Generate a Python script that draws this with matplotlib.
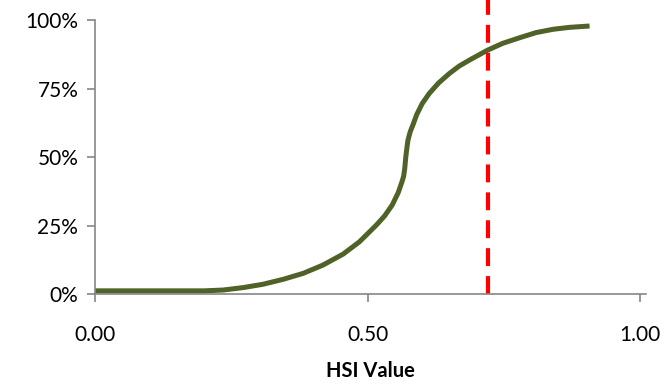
import matplotlib
matplotlib.use("Agg")
import matplotlib.pyplot as plt
from matplotlib.ticker import PercentFormatter

# curve
hsi = [0.00, 0.10, 0.20, 0.235, 0.272, 0.308, 0.345, 0.382, 0.418, 0.455,
       0.485, 0.516, 0.531, 0.545, 0.556, 0.563, 0.566, 0.568, 0.570,
       0.572, 0.574, 0.578, 0.583, 0.590, 0.600, 0.613, 0.630, 0.650,
       0.668, 0.687, 0.720, 0.748, 0.780, 0.809, 0.840, 0.870, 0.907]
prob = [1.2, 1.2, 1.2, 1.5, 2.4, 3.6, 5.4, 7.6, 10.6, 14.6,
        19.1, 25.2, 28.5, 32.5, 37.0, 41.0, 43.0, 45.8, 50.1,
        53.4, 56.2, 59.2, 61.7, 65.5, 69.5, 73.2, 77.0, 80.5,
        83.2, 85.4, 89.0, 91.5, 93.6, 95.4, 96.6, 97.3, 97.8]

cutoff = 0.72
x_ticks = [0.0, 0.5, 1.0]
y_ticks = [0, 25, 50, 75, 100]

plt.rcParams["font.family"] = ["Lato", "DejaVu Sans"]

fig = plt.figure(figsize=(6.7, 3.84), dpi=100)
ax = fig.add_axes([0.1418, 0.234, 0.822, 0.714])

ax.plot(hsi, prob, color="#4F6228", linewidth=3.6,
        solid_capstyle="butt", solid_joinstyle="round")
ax.axvline(cutoff, ymin=0, ymax=1.075, color="#FF0000", linewidth=3,
           linestyle=(0, (4.3, 2.4)), clip_on=False)

ax.set_xlim(0, 1.01)
ax.set_ylim(0, 100)
ax.set_xticks(x_ticks)
ax.set_xticklabels([f"{v:.2f}" for v in x_ticks])
ax.set_yticks(y_ticks)
ax.yaxis.set_major_formatter(PercentFormatter(decimals=0))

for s in ["top", "right"]:
    ax.spines[s].set_visible(False)
for s in ["left", "bottom"]:
    ax.spines[s].set_color("#868686")
    ax.spines[s].set_linewidth(1.2)

ax.tick_params(axis="both", colors="#868686", labelcolor="black",
               labelsize=15, length=6, width=1.2)
ax.tick_params(axis="x", pad=16)
ax.tick_params(axis="y", pad=6)

ax.set_xlabel("HSI Value", fontsize=14.5, fontweight="bold", labelpad=12)

fig.savefig("out.png", dpi=100)
